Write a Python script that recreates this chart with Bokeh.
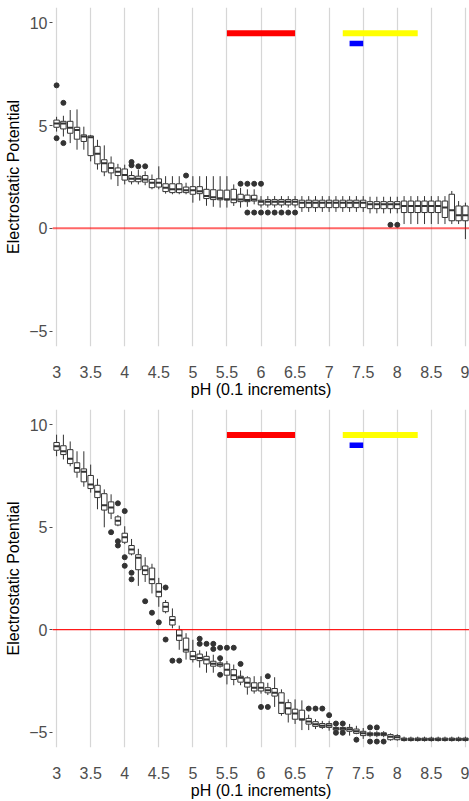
import numpy as np
from bokeh.plotting import figure
from bokeh.layouts import column
from bokeh.models import FixedTicker, Range1d, Span
from bokeh.embed import file_html
from bokeh.resources import INLINE

# ---------------- data ----------------
ph = [3.0, 3.1, 3.2, 3.3, 3.4, 3.5, 3.6, 3.7, 3.8, 3.9,
      4.0, 4.1, 4.2, 4.3, 4.4, 4.5, 4.6, 4.7, 4.8, 4.9,
      5.0, 5.1, 5.2, 5.3, 5.4, 5.5, 5.6, 5.7, 5.8, 5.9,
      6.0, 6.1, 6.2, 6.3, 6.4, 6.5, 6.6, 6.7, 6.8, 6.9,
      7.0, 7.1, 7.2, 7.3, 7.4, 7.5, 7.6, 7.7, 7.8, 7.9,
      8.0, 8.1, 8.2, 8.3, 8.4, 8.5, 8.6, 8.7, 8.8, 8.9, 9.0]

x_ticks = [3.0, 3.5, 4.0, 4.5, 5.0, 5.5, 6.0, 6.5, 7.0, 7.5, 8.0, 8.5, 9.0]
x_tick_labels = ["3", "3.5", "4", "4.5", "5", "5.5", "6", "6.5", "7", "7.5", "8", "8.5", "9"]
y_ticks = [-5, 0, 5, 10]
y_tick_labels = ["\u22125", "0", "5", "10"]

# reference pH ranges (horizontal bars)
range_start = [5.5, 7.2, 7.3]
range_end = [6.5, 8.3, 7.5]
range_y = [9.5, 9.5, 9.0]
range_color = ["#ff0000", "#ffff00", "#0000ff"]

# ---- panel A (top) ----
a_med = [5.11, 5.11, 4.90, 4.79, 4.47, 4.44, 3.63, 3.17, 2.94, 2.75,
         2.60, 2.42, 2.41, 2.38, 2.22, 2.22, 1.98, 1.90, 1.90, 1.85,
         1.85, 1.81, 1.58, 1.52, 1.46, 1.42, 1.41, 1.41, 1.38, 1.41,
         1.30, 1.30, 1.30, 1.30, 1.30, 1.30, 1.25, 1.25, 1.25, 1.25,
         1.25, 1.25, 1.25, 1.25, 1.25, 1.25, 1.17, 1.17, 1.17, 1.17,
         1.17, 1.09, 1.09, 1.09, 1.09, 1.09, 1.09, 1.01, 0.88, 0.64, 0.64]
a_q1 = [4.92, 4.84, 4.63, 4.34, 4.23, 3.54, 3.14, 2.75, 2.70, 2.57,
        2.35, 2.27, 2.27, 2.25, 1.98, 2.01, 1.79, 1.74, 1.74, 1.74,
        1.66, 1.69, 1.45, 1.40, 1.39, 1.38, 1.25, 1.30, 1.30, 1.33,
        1.14, 1.14, 1.14, 1.14, 1.14, 1.14, 1.01, 1.01, 1.01, 1.01,
        1.01, 1.01, 1.01, 1.01, 1.01, 1.01, 0.96, 0.96, 0.96, 0.96,
        0.96, 0.77, 0.77, 0.77, 0.77, 0.77, 0.77, 0.53, 0.37, 0.37, 0.37]
a_q3 = [5.27, 5.21, 5.21, 4.92, 4.55, 4.50, 3.99, 3.34, 3.18, 2.94,
        2.89, 2.57, 2.54, 2.57, 2.38, 2.41, 2.17, 2.17, 2.17, 2.01,
        2.03, 2.03, 1.90, 1.88, 1.86, 1.86, 1.90, 1.66, 1.62, 1.61,
        1.37, 1.40, 1.40, 1.40, 1.40, 1.40, 1.37, 1.37, 1.37, 1.37,
        1.37, 1.37, 1.37, 1.37, 1.37, 1.37, 1.30, 1.30, 1.30, 1.30,
        1.30, 1.33, 1.33, 1.33, 1.33, 1.33, 1.33, 1.33, 1.66, 1.09, 1.09]
a_lo = [4.71, 4.47, 4.15, 3.83, 3.83, 3.26, 2.86, 2.54, 2.38, 2.06,
        2.14, 2.14, 2.14, 2.10, 1.90, 1.90, 1.69, 1.66, 1.66, 1.66,
        1.25, 1.35, 1.10, 1.05, 1.01, 1.01, 1.09, 1.01, 1.05, 1.17,
        1.01, 1.01, 1.01, 1.01, 1.01, 1.01, 0.80, 0.80, 0.80, 0.80,
        0.80, 0.80, 0.80, 0.80, 0.80, 0.80, 0.73, 0.73, 0.73, 0.73,
        0.73, 0.21, 0.21, 0.21, 0.21, 0.21, 0.21, 0.21, 0.21, 0.21, -0.52]
a_hi = [5.43, 5.48, 5.76, 5.79, 4.95, 4.55, 4.31, 4.04, 3.50, 3.14,
        3.10, 2.78, 2.86, 2.78, 2.62, 3.02, 2.54, 2.54, 2.54, 2.22,
        2.54, 2.54, 2.54, 2.54, 2.54, 2.54, 2.14, 1.97, 1.90, 1.90,
        1.57, 1.57, 1.57, 1.57, 1.57, 1.57, 1.57, 1.57, 1.57, 1.57,
        1.57, 1.57, 1.57, 1.57, 1.57, 1.57, 1.54, 1.54, 1.54, 1.54,
        1.54, 1.57, 1.57, 1.57, 1.57, 1.57, 1.57, 1.57, 1.82, 1.33, 1.25]
a_out_x = [3.0, 3.0, 3.1, 3.1, 4.1, 4.1, 4.2, 4.3, 4.9, 5.7, 5.8, 5.9, 6.0,
           5.8, 5.9, 6.0, 6.1, 6.2, 6.3, 6.4, 6.5, 7.9, 8.0]
a_out_y = [6.96, 4.39, 6.11, 4.15, 3.23, 3.07, 3.02, 3.02, 2.57, 2.17, 2.17, 2.17, 2.17,
           0.77, 0.77, 0.77, 0.77, 0.77, 0.77, 0.77, 0.77, 0.17, 0.17]

# ---- panel B (bottom) ----
b_med = [8.95, 8.71, 8.34, 7.90, 7.71, 7.09, 6.74, 6.08, 5.97, 5.32,
         4.51, 3.91, 3.51, 2.90, 2.46, 1.85, 1.12, 0.48, -0.28, -0.98,
         -1.30, -1.38, -1.46, -1.66, -1.70, -1.95, -2.22, -2.35, -2.59, -2.83,
         -2.83, -2.96, -3.08, -3.56, -3.83, -4.09, -4.37, -4.48, -4.61, -4.69,
         -4.67, -4.83, -4.83, -4.86, -4.96, -5.06, -5.09, -5.09, -5.09, -5.22,
         -5.25, -5.35, -5.35, -5.35, -5.35, -5.35, -5.35, -5.35, -5.35, -5.35, -5.35]
b_q1 = [8.76, 8.55, 8.11, 7.69, 7.22, 6.89, 6.45, 5.84, 5.69, 5.11,
        4.27, 3.70, 2.93, 2.69, 2.25, 1.61, 0.88, 0.23, -0.52, -1.09,
        -1.46, -1.51, -1.67, -1.78, -1.78, -2.22, -2.43, -2.56, -2.80, -2.99,
        -2.99, -3.08, -3.24, -4.09, -4.12, -4.37, -4.41, -4.61, -4.72, -4.77,
        -4.77, -4.90, -4.90, -4.96, -5.06, -5.17, -5.17, -5.17, -5.17, -5.37,
        -5.37, -5.41, -5.41, -5.41, -5.41, -5.41, -5.41, -5.41, -5.41, -5.41, -5.41]
b_q3 = [9.14, 8.98, 8.79, 8.15, 7.85, 7.53, 7.05, 6.64, 6.24, 5.51,
        4.71, 4.11, 3.66, 3.11, 3.01, 2.25, 1.33, 0.64, -0.01, -0.41,
        -1.06, -1.19, -1.30, -1.54, -1.62, -1.67, -1.95, -2.27, -2.35, -2.59,
        -2.59, -2.83, -2.87, -3.08, -3.56, -3.88, -3.93, -4.33, -4.49, -4.58,
        -4.58, -4.77, -4.77, -4.77, -4.85, -4.96, -5.03, -5.03, -5.03, -5.12,
        -5.17, -5.29, -5.29, -5.29, -5.29, -5.29, -5.29, -5.29, -5.29, -5.29, -5.29]
b_lo = [8.47, 8.31, 7.98, 7.42, 6.98, 6.69, 5.88, 5.00, 5.40, 5.05,
        4.18, 3.63, 2.14, 2.33, 1.77, 1.12, 0.80, 0.07, -0.98, -1.46,
        -1.60, -1.85, -2.10, -2.10, -1.85, -2.67, -2.71, -2.71, -3.17, -3.12,
        -3.12, -3.19, -3.77, -4.20, -4.53, -4.60, -4.90, -4.90, -4.85, -4.85,
        -4.93, -4.95, -4.95, -5.17, -5.10, -5.33, -5.25, -5.25, -5.25, -5.42,
        -5.42, -5.46, -5.46, -5.46, -5.46, -5.46, -5.46, -5.46, -5.46, -5.46, -5.46]
b_hi = [9.52, 9.52, 9.19, 8.71, 8.71, 8.06, 7.37, 6.85, 6.61, 5.60,
        5.05, 4.43, 3.95, 3.54, 3.22, 2.53, 1.45, 1.04, 0.20, -0.17,
        -0.49, -1.00, -1.06, -1.22, -1.50, -1.53, -1.70, -1.99, -2.27, -2.27,
        -2.27, -2.59, -2.32, -2.91, -3.40, -3.40, -3.45, -4.15, -4.37, -4.45,
        -4.45, -4.72, -4.72, -4.60, -4.69, -4.80, -4.95, -4.95, -4.95, -5.06,
        -5.10, -5.22, -5.22, -5.22, -5.22, -5.22, -5.22, -5.22, -5.22, -5.22, -5.22]
b_out_x = [3.8, 3.9, 3.9, 3.9, 4.0, 4.0, 4.0, 4.1, 4.1, 4.3, 4.4, 4.5, 4.6, 4.6, 4.7, 4.8,
           5.1, 5.1, 5.2, 5.3, 5.3, 5.4, 5.4, 5.4, 5.5, 5.6, 5.7, 6.0, 6.1, 6.1,
           6.7, 6.8, 6.9, 7.0, 7.1, 7.1, 7.2, 7.2, 7.4, 7.6, 7.6, 7.7, 7.7, 7.8]
b_out_y = [4.76, 6.17, 4.32, 4.11, 5.79, 3.54, 3.12, 2.78, 2.46, 1.39, 0.83, 0.36, 2.06, -0.48, -1.51, -1.51,
           -0.44, -0.69, -0.69, -0.69, -0.94, -0.88, -1.39, -2.20, -0.88, -0.88, -1.67, -3.77, -2.27, -3.77,
           -3.85, -3.85, -3.85, -4.17, -4.58, -5.03, -4.58, -5.03, -5.37, -4.77, -5.46, -4.77, -5.46, -5.46]

# ---------------- drawing ----------------
FONT = "Liberation Sans"
DARK = "#333333"
BOX_W = 0.08


def make_panel(med, q1, q3, lo, hi, ox, oy, height, top, bottom, zero_width, zero_alpha):
    p = figure(width=469, height=height,
               x_range=Range1d(2.94, 9.06), y_range=Range1d(-5.75, 10.75),
               output_backend="svg", toolbar_location=None,
               min_border_left=52, min_border_right=0,
               min_border_top=top, min_border_bottom=bottom)
    p.outline_line_color = None
    p.background_fill_color = "white"
    p.border_fill_color = "white"

    # grid
    p.xgrid.ticker = FixedTicker(ticks=x_ticks)
    p.xgrid.grid_line_color = "#d6d6d6"
    p.xgrid.grid_line_width = 1.2
    p.ygrid.visible = False

    # x axis
    xa = p.xaxis[0]
    xa.ticker = FixedTicker(ticks=x_ticks)
    xa.major_label_overrides = dict(zip(x_ticks, x_tick_labels))
    xa.axis_label = "pH (0.1 increments)"
    xa.axis_line_color = None
    xa.major_tick_line_color = None
    xa.minor_tick_line_color = None
    xa.major_label_standoff = 13
    xa.axis_label_standoff = 0
    xa.major_label_text_font = FONT
    xa.major_label_text_font_size = "16px"
    xa.major_label_text_color = "#4d4d4d"
    xa.axis_label_text_font = FONT
    xa.axis_label_text_font_size = "16px"
    xa.axis_label_text_font_style = "normal"
    xa.axis_label_text_color = "black"

    # y axis
    ya = p.yaxis[0]
    ya.ticker = FixedTicker(ticks=y_ticks)
    ya.major_label_overrides = dict(zip(y_ticks, y_tick_labels))
    ya.axis_label = "Electrostatic Potential"
    ya.axis_line_color = None
    ya.major_tick_line_color = "#4d4d4d"
    ya.major_tick_out = 3
    ya.major_tick_in = 0
    ya.minor_tick_line_color = None
    ya.major_label_standoff = 2
    ya.axis_label_standoff = 4
    ya.major_label_text_font = FONT
    ya.major_label_text_font_size = "16px"
    ya.major_label_text_color = "#4d4d4d"
    ya.axis_label_text_font = FONT
    ya.axis_label_text_font_size = "16px"
    ya.axis_label_text_font_style = "normal"
    ya.axis_label_text_color = "black"

    # zero reference line
    p.add_layout(Span(location=0, dimension="width", line_color="#ff0000",
                      line_width=zero_width, line_alpha=zero_alpha))

    x = np.array(ph)
    p.segment(x, lo, x, q1, line_color=DARK, line_width=1)
    p.segment(x, q3, x, hi, line_color=DARK, line_width=1)
    p.scatter(ox, oy, size=5, color=DARK)
    p.vbar(x=x, width=BOX_W, bottom=q1, top=q3, fill_color="white",
           line_color=DARK, line_width=1)
    p.segment(x - BOX_W / 2, med, x + BOX_W / 2, med, line_color=DARK, line_width=2)

    # reference pH ranges
    p.segment(x0=range_start[:2], y0=range_y[:2], x1=range_end[:2], y1=range_y[:2],
              line_color=range_color[:2], line_width=6)
    p.segment(x0=range_start[2:], y0=range_y[2:], x1=range_end[2:], y1=range_y[2:],
              line_color=range_color[2:], line_width=5.5)
    return p


p1 = make_panel(a_med, a_q1, a_q3, a_lo, a_hi, a_out_x, a_out_y,
                height=400, top=7, bottom=51, zero_width=2, zero_alpha=0.6)
p2 = make_panel(b_med, b_q1, b_q3, b_lo, b_hi, b_out_x, b_out_y,
                height=401, top=9, bottom=51, zero_width=1.3, zero_alpha=0.9)

layout = column(p1, p2)
open("out.html", "w").write(file_html(layout, INLINE))
